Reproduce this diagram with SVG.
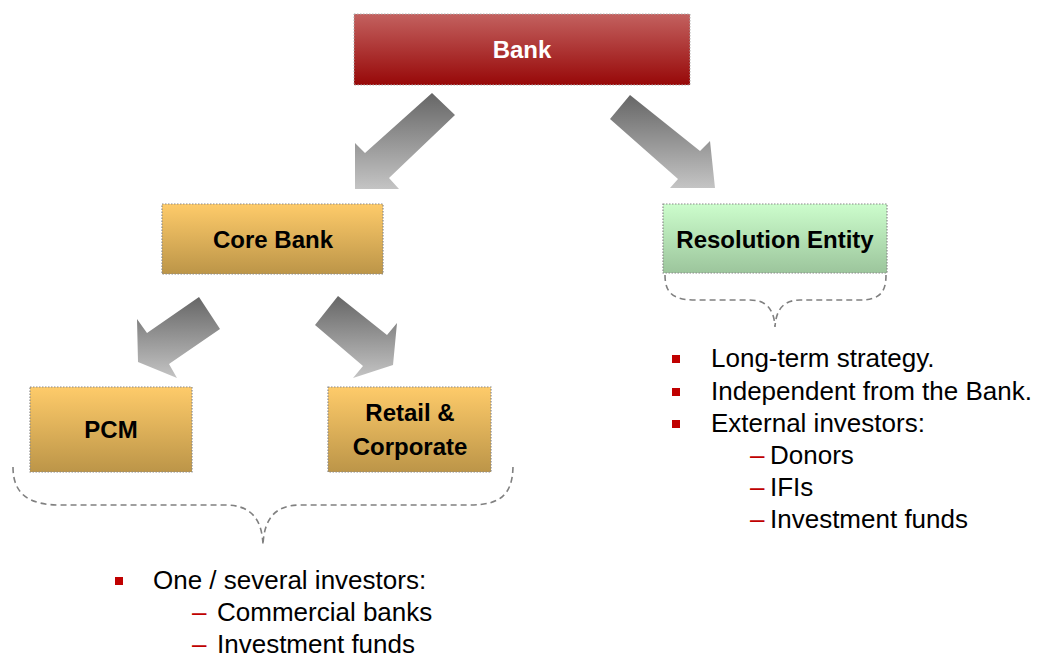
<svg xmlns="http://www.w3.org/2000/svg" width="1039" height="657" viewBox="0 0 1039 657">
  <defs>
    <linearGradient id="gRed" x1="0" y1="0" x2="0" y2="1">
      <stop offset="0" stop-color="#c3615f"/>
      <stop offset="1" stop-color="#970808"/>
    </linearGradient>
    <linearGradient id="gGold" x1="0" y1="0" x2="0" y2="1">
      <stop offset="0" stop-color="#fecb6a"/>
      <stop offset="1" stop-color="#bc9548"/>
    </linearGradient>
    <linearGradient id="gGreen" x1="0" y1="0" x2="0" y2="1">
      <stop offset="0" stop-color="#ccfdcc"/>
      <stop offset="1" stop-color="#9cc59c"/>
    </linearGradient>
    <linearGradient id="gArrow" x1="0" y1="0" x2="0" y2="1">
      <stop offset="0" stop-color="#666666"/>
      <stop offset="1" stop-color="#c4c4c4"/>
    </linearGradient>
  </defs>
  <style>
    .box { stroke: #8a8a8a; stroke-width: 1.2; stroke-dasharray: 1.5 1.5; }
    .lbl { font-family: "Liberation Sans", Arial, sans-serif; font-weight: bold; font-size: 24px; text-anchor: middle; fill: #000; }
    .arrow { fill: url(#gArrow); }
    .brace { fill: none; stroke: #808080; stroke-width: 1.6; stroke-dasharray: 6 4; }
    .txt { font-family: "Liberation Sans", Arial, sans-serif; font-size: 26px; fill: #000; }
    .dash { fill: #c00000; }
    .bullet { fill: #c00000; }
  </style>

  <!-- nodes -->
  <g id="bank">
    <rect x="354" y="14" width="336" height="71" fill="url(#gRed)" stroke="#b0b0b0" stroke-width="1" stroke-dasharray="1.5 1.5"/>
    <text class="lbl" x="522" y="58" style="fill:#ffffff">Bank</text>
  </g>
  <g id="core-bank">
    <rect class="box" x="162" y="204" width="221" height="70" fill="url(#gGold)"/>
    <text class="lbl" x="273" y="248">Core Bank</text>
  </g>
  <g id="resolution-entity">
    <rect class="box" x="663" y="204" width="224" height="69" fill="url(#gGreen)"/>
    <text class="lbl" x="775" y="248">Resolution Entity</text>
  </g>
  <g id="pcm">
    <rect class="box" x="30" y="387" width="162" height="85" fill="url(#gGold)"/>
    <text class="lbl" x="111" y="438">PCM</text>
  </g>
  <g id="retail-corporate">
    <rect class="box" x="328" y="387" width="163" height="85" fill="url(#gGold)"/>
    <text class="lbl" x="410" y="421">Retail &amp;</text>
    <text class="lbl" x="410" y="455">Corporate</text>
  </g>

  <!-- connectors -->
  <g id="connectors">
    <polygon class="arrow" points="432,93 455,115 389,178 399,189 355,189 355,143 365,153"/>
    <polygon class="arrow" points="630,95 700,151 710,141 715,188 670,188 678,179 610,119"/>
    <polygon class="arrow" points="199,297 220,329 169,364 177,378 138,362 137,319 147,333"/>
    <polygon class="arrow" points="338,296 387,335 397,323 393,365 353,378 363,366 315,325"/>
  </g>

  <!-- braces -->
  <g id="braces">
    <path class="brace" d="M665,275 C665,292 672,300 695,300 L750,300 C765,300 774,308 775,327 C776,308 785,300 800,300 L860,300 C880,300 886,292 886,275"/>
    <path class="brace" d="M13,467 C13,495 30,505 60,505 L225,505 C250,505 262,518 263,545 C264,518 276,505 300,505 L470,505 C500,505 513,495 513,465"/>
  </g>

  <!-- notes -->
  <g id="notes-resolution">
    <rect class="bullet" x="672" y="355" width="8" height="8"/>
    <text class="txt" x="711" y="367">Long-term strategy.</text>
    <rect class="bullet" x="672" y="388" width="8" height="8"/>
    <text class="txt" x="711" y="400">Independent from the Bank.</text>
    <rect class="bullet" x="672" y="420" width="8" height="8"/>
    <text class="txt" x="711" y="432">External investors:</text>
    <text class="txt dash" x="750" y="464">–</text>
    <text class="txt" x="770" y="464">Donors</text>
    <text class="txt dash" x="750" y="496">–</text>
    <text class="txt" x="770" y="496">IFIs</text>
    <text class="txt dash" x="750" y="528">–</text>
    <text class="txt" x="770" y="528">Investment funds</text>
  </g>
  <g id="notes-core">
    <rect class="bullet" x="115" y="577" width="8" height="8"/>
    <text class="txt" x="153" y="589">One / several investors:</text>
    <text class="txt dash" x="192" y="621">–</text>
    <text class="txt" x="217" y="621">Commercial banks</text>
    <text class="txt dash" x="192" y="653">–</text>
    <text class="txt" x="217" y="653">Investment funds</text>
  </g>
</svg>
